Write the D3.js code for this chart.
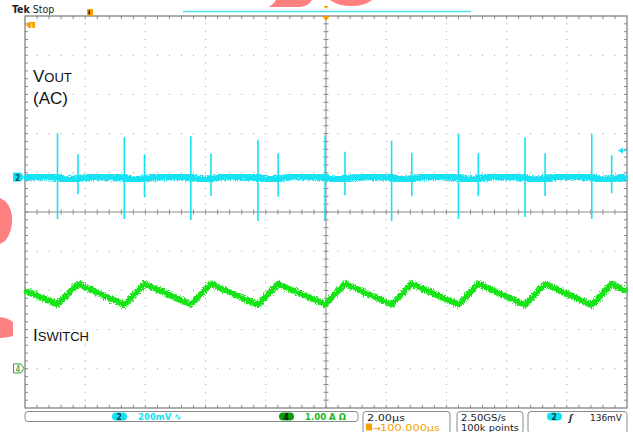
<!DOCTYPE html>
<html><head><meta charset="utf-8">
<script src="https://cdn.jsdelivr.net/npm/d3@7"></script>
<style>body{margin:0;background:#fff}svg{display:block}</style>
</head><body>
<script>
// ---- data ----
// time axis: µs relative to trigger (2.00 µs/div, 10 divisions)
const timeTicks = [-10,-8,-6,-4,-2,0,2,4,6,8,10];
// ISWITCH (channel 4, 1.00 A/div)
const iswitchTime = [-10,-8.92,-8.24,-6.70,-6.03,-4.49,-3.82,-2.26,-1.59,-0.03,0.63,2.18,2.85,4.40,5.06,6.61,7.28,8.83,9.49,10];
const iswitchAmps = [1.99,1.63,2.16,1.62,2.16,1.63,2.16,1.62,2.16,1.63,2.16,1.63,2.16,1.62,2.16,1.62,2.16,1.61,2.16,1.96];
// VOUT AC baseline (channel 2, 200 mV/div)
const voutTime = [-10,-9.3,-8.92,-8.6,-7.6,-6.70,-6.4,-5.4,-4.49,-4.2,-3.2,-2.26,-1.9,-1.0,-0.03,0.3,1.3,2.18,2.5,3.5,4.40,4.7,5.7,6.61,6.9,7.9,8.83,9.2,10];
const voutMv = [0,3,-2,-14,2,-3,-14,3,-2,-13,3,-2,-14,4,-2,-15,3,-2,-14,4,-2,-15,3,-2,-14,4,-2,-13,2];
// VOUT switching spikes
const spikeTime = [-8.92,-8.24,-6.70,-6.03,-4.49,-3.82,-2.26,-1.59,-0.03,0.63,2.18,2.85,4.40,5.06,6.61,7.28,8.83,9.49];
const spikeHigh = [224,117,204,117,209,120,190,122,214,130,185,124,219,122,204,122,219,112];
const spikeLow  = [-214,-87,-214,-102,-219,-97,-224,-100,-224,-92,-224,-97,-214,-97,-204,-97,-214,-82];
// channel settings / readouts
const ch2Offset = 0.89, ch4Offset = -3.99; // divisions
const ch2Scale = 200, ch4Scale = 1.0;

const W = 633, H = 432;
const svg = d3.select("body").append("svg").attr("width", W).attr("height", H);
const defs = svg.append("defs");
const f = defs.append("filter").attr("id","noise").attr("x","-5%").attr("y","-50%").attr("width","110%").attr("height","200%");
f.append("feTurbulence").attr("type","fractalNoise").attr("baseFrequency","0.9 0.6").attr("numOctaves",2).attr("seed",3).attr("result","t");
f.append("feDisplacementMap").attr("in","SourceGraphic").attr("in2","t").attr("scale",6).attr("xChannelSelector","R").attr("yChannelSelector","G");

const L = 25, R = 627, T = 16, B = 408;
const x = d3.scaleLinear().domain([-10,10]).range([L,R]);
const gy = d3.scaleLinear().domain([-5,5]).range([B,T]); // divisions
const y2 = v => gy(ch2Offset + v/ch2Scale);
const y4 = v => gy(ch4Offset + v/ch4Scale);

const gridCol = "#9a9a9a";
const g = svg.append("g");
// dotted grid
const divW = (R-L)/10, divH = (B-T)/10;
for (let i=1;i<10;i++){ if(i===5) continue;
  for (let k=1;k<50;k++){ if(k%5===0) continue;
    g.append("rect").attr("x", L+i*divW-0.5).attr("y", T+k*divH/5-0.5).attr("width",1).attr("height",1).attr("fill",gridCol);
  }
}
for (let j=1;j<10;j++){ if(j===5) continue;
  for (let k=1;k<50;k++){
    g.append("rect").attr("x", L+k*divW/5-0.5).attr("y", T+j*divH-0.5).attr("width",1).attr("height",1).attr("fill",gridCol);
  }
}
// center axes with ticks
g.append("line").attr("x1",L).attr("x2",R).attr("y1",gy(0)).attr("y2",gy(0)).attr("stroke","#8a8a8a");
g.append("line").attr("y1",T).attr("y2",B).attr("x1",x(0)).attr("x2",x(0)).attr("stroke","#8a8a8a");
for (let k=1;k<50;k++){
  const xx = L+k*divW/5, yy = T+k*divH/5;
  g.append("line").attr("x1",xx).attr("x2",xx).attr("y1",gy(0)-2.5).attr("y2",gy(0)+2.5).attr("stroke","#8a8a8a");
  g.append("line").attr("y1",yy).attr("y2",yy).attr("x1",x(0)-2.5).attr("x2",x(0)+2.5).attr("stroke","#8a8a8a");
  g.append("line").attr("x1",xx).attr("x2",xx).attr("y1",T).attr("y2",T+3).attr("stroke","#8a8a8a");
  g.append("line").attr("x1",xx).attr("x2",xx).attr("y1",B-3).attr("y2",B).attr("stroke","#8a8a8a");
  g.append("line").attr("y1",yy).attr("y2",yy).attr("x1",L).attr("x2",L+3).attr("stroke","#8a8a8a");
  g.append("line").attr("y1",yy).attr("y2",yy).attr("x1",R-3).attr("x2",R).attr("stroke","#8a8a8a");
}
const ax = d3.axisTop(x).tickValues(timeTicks).tickSize(0).tickFormat("");
svg.append("g").attr("transform",`translate(0,${T})`).call(ax).call(s=>s.select(".domain").remove());
g.append("rect").attr("x",L).attr("y",T).attr("width",R-L).attr("height",B-T).attr("fill","none").attr("stroke","#7a7a7a").attr("stroke-width",1.2);

// watermark shapes
const pink = "#ff8080";
svg.append("path").attr("d","M276,0 Q272,6 268,7 L300,7 Q309,6 312,0 Z").attr("fill",pink);
svg.append("path").attr("d","M330,0 Q338,6 351,6 Q365,6 372,0 Z").attr("fill",pink);
svg.append("path").attr("d","M0,198 Q10,202 12,216 Q13,232 5,241 L0,244 Z").attr("fill",pink);
svg.append("path").attr("d","M0,317 Q8,318 13,322 L13,336 Q6,338 0,338 Z").attr("fill",pink);

// ISWITCH trace
const cyan = "#12e2f2", green = "#18e418";
const isw = iswitchTime.map((t,i)=>[t,iswitchAmps[i]]);
svg.append("path").datum(isw)
  .attr("d", d3.line().x(d=>x(d[0])).y(d=>y4(d[1])))
  .attr("fill","none").attr("stroke",green).attr("stroke-width",6).attr("stroke-linejoin","round")
  .attr("filter","url(#noise)");

// VOUT trace
const vo = voutTime.map((t,i)=>[t,voutMv[i]]);
const line2 = d3.line().x(d=>x(d[0])).y(d=>y2(d[1])).curve(d3.curveMonotoneX);
svg.append("path").datum(vo).attr("d",line2).attr("fill","none").attr("stroke",cyan).attr("stroke-width",7.5).attr("filter","url(#noise)");
svg.append("g").selectAll("line").data(spikeTime).join("line")
  .attr("x1",d=>x(d)).attr("x2",d=>x(d))
  .attr("y1",(d,i)=>y2(spikeHigh[i])).attr("y2",(d,i)=>y2(spikeLow[i]))
  .attr("stroke",cyan).attr("stroke-width",1.6);

// labels
const lab = svg.append("g").attr("font-family","'Liberation Sans', Arial, sans-serif").attr("fill","#111");
const t1 = lab.append("text").attr("x",33).attr("y",82);
t1.append("tspan").attr("font-size",17).text("V");
t1.append("tspan").attr("font-size",13).text("OUT");
lab.append("text").attr("x",33).attr("y",104).attr("font-size",17).text("(AC)");
const t2 = lab.append("text").attr("x",33).attr("y",341);
t2.append("tspan").attr("font-size",17).text("I");
t2.append("tspan").attr("font-size",13).text("SWITCH");

// header
const hf = "'DejaVu Sans Condensed','DejaVu Sans',sans-serif";
const hdr = svg.append("text").attr("x",12).attr("y",13).attr("font-family",hf).attr("font-size",10.5).attr("fill","#222");
hdr.append("tspan").attr("font-weight","bold").text("Tek");
hdr.append("tspan").text(" Stop");
svg.append("line").attr("x1",183).attr("x2",471).attr("y1",11.5).attr("y2",11.5).attr("stroke","#55dde8").attr("stroke-width",1.3);
const orange = "#f5a000";
svg.append("rect").attr("x",87).attr("y",9).attr("width",6).attr("height",7).attr("rx",1).attr("fill",orange);
svg.append("rect").attr("x",88.5).attr("y",10.5).attr("width",1.5).attr("height",4).attr("fill","#222");
svg.append("path").attr("d",`M${x(0)-4},${T} L${x(0)+4},${T} L${x(0)},${T+5} Z`).attr("fill",orange);
svg.append("path").attr("d",`M${x(0)-2.5},6 L${x(0)+2.5},6 L${x(0)},9 Z`).attr("fill",orange);
svg.append("path").attr("d","M26,25 L29,22 L35,22 L35,28 L29,28 Z").attr("fill",orange);
svg.append("text").attr("x",30).attr("y",27.5).attr("font-size",6).attr("font-family",hf).attr("fill","#fff").text("1");

// channel ground markers
const m2 = svg.append("g").attr("transform",`translate(13,${y2(0)})`);
m2.append("path").attr("d","M0,-4.5 L8,-4.5 L11,0 L8,4.5 L0,4.5 Z").attr("fill",cyan);
m2.append("text").attr("x",2).attr("y",3.5).attr("font-size",8.5).attr("font-family",hf).attr("font-weight","bold").attr("fill","#0a5560").text("2");
const m4 = svg.append("g").attr("transform",`translate(13,${y4(0)})`);
m4.append("path").attr("d","M0.5,-4.5 L8,-4.5 L11,0 L8,4.5 L0.5,4.5 Z").attr("fill","#fff").attr("stroke","#22aa22");
m4.append("text").attr("x",2.5).attr("y",3.5).attr("font-size",8.5).attr("font-family",hf).attr("fill","#118811").text("4");
// trigger level arrow
svg.append("path").attr("d",`M618,${y2(136)} L623,${y2(136)-3} L623,${y2(136)+3} Z`).attr("fill",cyan);
svg.append("line").attr("x1",622).attr("x2",627).attr("y1",y2(136)).attr("y2",y2(136)).attr("stroke",cyan);

// bottom status bar
const sb = svg.append("g").attr("font-family",hf).attr("font-size",9.5);
const box = (x0,y0,w,h)=>sb.append("rect").attr("x",x0).attr("y",y0).attr("width",w).attr("height",h).attr("rx",3).attr("fill","#fff").attr("stroke","#8a8a8a");
box(25,411.5,333,10);
box(363,411.5,87,22);
box(457,411.5,66,22);
box(528,411.5,99,22);
const fit = (sel,len)=>sel.attr("textLength",len).attr("lengthAdjust","spacingAndGlyphs");
sb.append("rect").attr("x",112).attr("y",412.5).attr("width",15).attr("height",8).attr("rx",4).attr("fill",cyan);
sb.append("text").attr("x",116.5).attr("y",419.8).attr("font-size",8.5).attr("font-weight","bold").attr("fill","#0b3b40").text("2");
sb.append("text").attr("x",138).attr("y",420).attr("font-size",9.5).attr("font-weight","bold").attr("fill",cyan).text("200mV ∿");
sb.append("rect").attr("x",279).attr("y",412.5).attr("width",15).attr("height",8).attr("rx",4).attr("fill","#119911");
sb.append("text").attr("x",283.5).attr("y",419.8).attr("font-size",8.5).attr("font-weight","bold").attr("fill","#052505").text("4");
sb.append("text").attr("x",305).attr("y",420).attr("font-size",9.5).attr("font-weight","bold").attr("fill","#16b816").text("1.00 A  Ω");
fit(sb.append("text").attr("x",367).attr("y",420.5).attr("fill","#222").text("2.00µs"),38);
sb.append("rect").attr("x",366).attr("y",423.5).attr("width",6).attr("height",7).attr("fill",orange);
sb.append("text").attr("x",372).attr("y",431).attr("font-size",7).attr("fill",orange).text("→▾");
fit(sb.append("text").attr("x",380).attr("y",431).attr("fill",orange).text("100.000µs"),60);
fit(sb.append("text").attr("x",461).attr("y",420.5).attr("fill","#222").text("2.50GS/s"),45);
fit(sb.append("text").attr("x",461).attr("y",431).attr("fill","#222").text("100k points"),58);
sb.append("rect").attr("x",547).attr("y",412.5).attr("width",15).attr("height",8).attr("rx",4).attr("fill",cyan);
sb.append("text").attr("x",551.5).attr("y",419.8).attr("font-size",8.5).attr("font-weight","bold").attr("fill","#0b3b40").text("2");
sb.append("text").attr("x",569).attr("y",420.5).attr("fill","#222").attr("font-style","italic").attr("font-weight","bold").text("ʃ");
fit(sb.append("text").attr("x",590).attr("y",420.5).attr("fill","#222").text("136mV"),32);
</script>
</body></html>
